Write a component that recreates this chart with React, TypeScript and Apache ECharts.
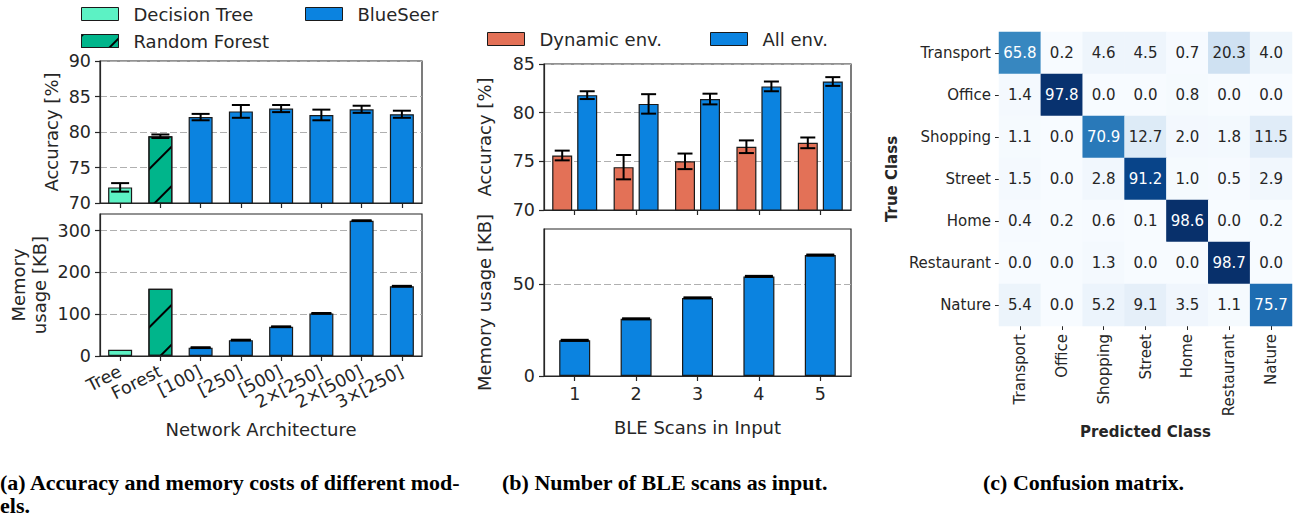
import React, { useEffect, useRef } from 'react';
import * as echarts from 'echarts';

// ---------- Panel (a): models ----------
const archCats = ['Tree', 'Forest', '[100]', '[250]', '[500]', '2×[250]', '2×[500]', '3×[250]'];
const archModel = ['Decision Tree', 'Random Forest', 'BlueSeer', 'BlueSeer', 'BlueSeer', 'BlueSeer', 'BlueSeer', 'BlueSeer'];
const accMean = [72.2, 79.4, 82.1, 82.9, 83.3, 82.4, 83.2, 82.5];
const accErr = [0.6, 0.25, 0.45, 0.9, 0.5, 0.75, 0.5, 0.5];
const memKB = [15, 161, 20, 38, 70, 102, 324, 167];
const memErr: (number | null)[] = [null, null, 1, 1, 1, 1, 1, 1];
const accTicks = { min: 70, max: 90, interval: 5, values: [70, 75, 80, 85, 90] };
const memTicks = { min: 0, max: 340, interval: 100, values: [0, 100, 200, 300] };

// ---------- Panel (b): BLE scans ----------
const bleCats = ['1', '2', '3', '4', '5'];
const dynAcc = [75.6, 74.4, 75.0, 76.5, 76.9];
const dynErr = [0.5, 1.25, 0.8, 0.65, 0.55];
const allAcc = [81.8, 80.9, 81.4, 82.7, 83.2];
const allErr = [0.4, 1.0, 0.55, 0.5, 0.45];
const bleMem = [19.4, 31.1, 42.5, 54.2, 65.8];
const bleMemErr = [0.3, 0.3, 0.3, 0.3, 0.3];
const bleAccTicks = { min: 70, max: 85, interval: 5, values: [70, 75, 80, 85] };
const bleMemTicks = { min: 0, max: 80, interval: 50, values: [0, 50] };

// ---------- Panel (c): confusion matrix ----------
const classes = ['Transport', 'Office', 'Shopping', 'Street', 'Home', 'Restaurant', 'Nature'];
const confusion = [
  [65.8, 0.2, 4.6, 4.5, 0.7, 20.3, 4.0],
  [1.4, 97.8, 0.0, 0.0, 0.8, 0.0, 0.0],
  [1.1, 0.0, 70.9, 12.7, 2.0, 1.8, 11.5],
  [1.5, 0.0, 2.8, 91.2, 1.0, 0.5, 2.9],
  [0.4, 0.2, 0.6, 0.1, 98.6, 0.0, 0.2],
  [0.0, 0.0, 1.3, 0.0, 0.0, 98.7, 0.0],
  [5.4, 0.0, 5.2, 9.1, 3.5, 1.1, 75.7],
];
const bluesStops = ['#f7fbff', '#deebf7', '#c6dbef', '#9ecae1', '#6baed6', '#4292c6', '#2171b5', '#08519c', '#08306b'];

const captions = [
  { text: '(a) Accuracy and memory costs of different mod-', x: 0, y: 482 },
  { text: 'els.', x: 0, y: 505 },
  { text: '(b) Number of BLE scans as input.', x: 502, y: 482 },
  { text: '(c) Confusion matrix.', x: 983, y: 482 },
];

const COLORS: Record<string, string> = {
  'Decision Tree': '#5cf2c4',
  'Random Forest': '#00b58b',
  BlueSeer: '#0b83e0',
  'Dynamic env.': '#e37157',
  'All env.': '#0b83e0',
};

const INK = '#262626';
const FONT = 'DejaVu Sans';

const hatch = {
  symbol: 'rect',
  symbolSize: 1,
  dashArrayX: [1, 0],
  dashArrayY: [1.6, 26],
  rotation: -Math.PI / 4,
  color: '#000',
};

function errRender(offset: number, capW: number) {
  return (params: any, api: any) => {
    const x = api.value(0);
    const lo = api.value(1);
    const hi = api.value(2);
    const p1 = api.coord([x, lo]);
    const p2 = api.coord([x, hi]);
    const cx = p1[0] + offset;
    const h = capW / 2;
    const st = { stroke: '#000', lineWidth: 2 };
    return {
      type: 'group',
      children: [
        { type: 'line', shape: { x1: cx, y1: p1[1], x2: cx, y2: p2[1] }, style: st },
        { type: 'line', shape: { x1: cx - h, y1: p1[1], x2: cx + h, y2: p1[1] }, style: st },
        { type: 'line', shape: { x1: cx - h, y1: p2[1], x2: cx + h, y2: p2[1] }, style: st },
      ],
    };
  };
}

function errData(means: number[], errs: (number | null)[]) {
  const out: number[][] = [];
  means.forEach((m, i) => {
    const e = errs[i];
    if (e != null) out.push([i, m - e, m + e]);
  });
  return out;
}

function valueAxis(
  gridIndex: number,
  t: { min: number; max: number; interval: number; values: number[] },
  name: string,
  nameGap: number
) {
  return {
    type: 'value',
    gridIndex,
    min: t.min,
    max: t.max,
    interval: t.interval,
    name,
    nameLocation: 'middle',
    nameGap,
    nameTextStyle: { fontSize: 18, color: INK, fontFamily: FONT, lineHeight: 21 },
    axisLine: { show: true, lineStyle: { color: INK, width: 1.2 } },
    axisTick: { show: true, length: 5, customValues: t.values, lineStyle: { color: INK, width: 1.2 } },
    axisLabel: {
      fontSize: 17.5, color: INK, fontFamily: FONT, margin: 9,
      customValues: t.values,
    },
    splitLine: { show: true, lineStyle: { color: '#b0b0b0', type: [7, 3], width: 1.2 } },
  };
}

function catAxis(gridIndex: number, data: string[], showLabel: boolean, extra: any = {}) {
  return {
    type: 'category',
    gridIndex,
    data,
    axisLine: { show: true, lineStyle: { color: INK, width: 1.2 } },
    axisTick: { show: true, alignWithLabel: true, length: 5, lineStyle: { color: INK, width: 1.2 } },
    axisLabel: { show: showLabel, interval: 0, fontSize: 17.5, color: INK, fontFamily: FONT, margin: 9 },
    splitLine: { show: false },
    ...extra,
  };
}

function modelBars(name: string, values: number[], xAxisIndex: number, yAxisIndex: number, stack: string) {
  return {
    type: 'bar',
    name,
    xAxisIndex,
    yAxisIndex,
    stack,
    barWidth: 24,
    data: values.map((v, i) => (archModel[i] === name ? v : null)),
    itemStyle: {
      color: COLORS[name],
      borderColor: '#1a1a1a',
      borderWidth: 1.2,
      decal: name === 'Random Forest' ? hatch : undefined,
    },
    emphasis: { disabled: true },
  };
}

function legendAt(name: string, left: number, top: number) {
  return {
    data: [name],
    left,
    top,
    padding: 0,
    itemWidth: 37,
    itemHeight: 13,
    icon: 'rect',
    selectedMode: false,
    itemStyle: { borderColor: '#1a1a1a', borderWidth: 1 },
    textStyle: { fontSize: 18, color: INK, fontFamily: FONT, padding: [0, 0, 0, 10] },
  };
}

export default function App() {
  const ref = useRef<HTMLDivElement>(null);
  useEffect(() => {
    document.body.style.margin = '0';
    if (!ref.current) return;
    const chart = echarts.init(ref.current, undefined, { renderer: 'svg' });

    const heatData: any[] = [];
    confusion.forEach((row, r) =>
      row.forEach((v, c) => {
        heatData.push({ value: [c, r, v], label: { color: v > 50 ? '#ffffff' : INK } });
      })
    );

    const option: any = {
      animation: false,
      backgroundColor: '#ffffff',
      textStyle: { fontFamily: FONT },
      legend: [
        legendAt('Decision Tree', 81, 5),
        legendAt('BlueSeer', 305, 5),
        legendAt('Random Forest', 81, 32),
        legendAt('Dynamic env.', 487, 30),
        legendAt('All env.', 710, 30),
      ],
      grid: [
        { left: 100, top: 61, width: 322, height: 142, show: true, borderColor: INK, borderWidth: 1.2, backgroundColor: '#fff', outerBoundsMode: 'none' },
        { left: 100, top: 214, width: 322, height: 142, show: true, borderColor: INK, borderWidth: 1.2, backgroundColor: '#fff', outerBoundsMode: 'none' },
        { left: 544, top: 64, width: 307, height: 146, show: true, borderColor: INK, borderWidth: 1.2, backgroundColor: '#fff', outerBoundsMode: 'none' },
        { left: 544, top: 229, width: 307, height: 147, show: true, borderColor: INK, borderWidth: 1.2, backgroundColor: '#fff', outerBoundsMode: 'none' },
        { left: 999, top: 32, width: 293, height: 294, show: false, outerBoundsMode: 'none' },
      ],
      xAxis: [
        catAxis(0, archCats, false),
        catAxis(1, archCats, true, {
          name: 'Network Architecture',
          nameLocation: 'middle',
          nameGap: 64,
          nameTextStyle: { fontSize: 18, color: INK, fontFamily: FONT },
          axisLabel: { show: true, interval: 0, rotate: 27, fontSize: 17.5, color: INK, fontFamily: FONT, margin: 14 },
        }),
        catAxis(2, bleCats, false),
        catAxis(3, bleCats, true, {
          name: 'BLE Scans in Input',
          nameLocation: 'middle',
          nameGap: 42,
          nameTextStyle: { fontSize: 18, color: INK, fontFamily: FONT },
        }),
        {
          type: 'category',
          gridIndex: 4,
          data: classes,
          name: 'Predicted Class',
          nameLocation: 'middle',
          nameGap: 98,
          nameTextStyle: { fontSize: 15, fontWeight: 'bold', color: INK, fontFamily: FONT },
          axisLine: { show: false },
          axisTick: { show: true, alignWithLabel: true, length: 4, lineStyle: { color: INK, width: 1 } },
          axisLabel: { interval: 0, rotate: 90, fontSize: 15, color: INK, fontFamily: FONT, margin: 8 },
          splitLine: { show: false },
        },
      ],
      yAxis: [
        valueAxis(0, accTicks, 'Accuracy [%]', 38),
        valueAxis(1, memTicks, 'Memory\nusage [KB]', 50),
        valueAxis(2, bleAccTicks, 'Accuracy [%]', 49),
        valueAxis(3, bleMemTicks, 'Memory usage [KB]', 49),
        {
          type: 'category',
          gridIndex: 4,
          data: classes,
          inverse: true,
          name: 'True Class',
          nameLocation: 'middle',
          nameGap: 100,
          nameTextStyle: { fontSize: 15, fontWeight: 'bold', color: INK, fontFamily: FONT },
          axisLine: { show: false },
          axisTick: { show: true, alignWithLabel: true, length: 4, lineStyle: { color: INK, width: 1 } },
          axisLabel: { interval: 0, fontSize: 15, color: INK, fontFamily: FONT, margin: 8 },
          splitLine: { show: false },
        },
      ],
      visualMap: {
        show: false,
        type: 'continuous',
        seriesIndex: 14,
        min: 0,
        max: 98.7,
        dimension: 2,
        inRange: { color: bluesStops },
      },
      series: [
        // (a) accuracy
        modelBars('Decision Tree', accMean, 0, 0, 'acc'),
        modelBars('Random Forest', accMean, 0, 0, 'acc'),
        modelBars('BlueSeer', accMean, 0, 0, 'acc'),
        // (a) memory
        modelBars('Decision Tree', memKB, 1, 1, 'mem'),
        modelBars('Random Forest', memKB, 1, 1, 'mem'),
        modelBars('BlueSeer', memKB, 1, 1, 'mem'),
        {
          type: 'custom', xAxisIndex: 0, yAxisIndex: 0, z: 5, silent: true,
          renderItem: errRender(0, 18), data: errData(accMean, accErr),
        },
        {
          type: 'custom', xAxisIndex: 1, yAxisIndex: 1, z: 5, silent: true,
          renderItem: errRender(0, 20), data: errData(memKB, memErr),
        },
        // (b) accuracy
        {
          type: 'bar', name: 'Dynamic env.', xAxisIndex: 2, yAxisIndex: 2, barWidth: 20, barGap: '25%',
          data: dynAcc, itemStyle: { color: COLORS['Dynamic env.'], borderColor: '#1a1a1a', borderWidth: 1.2 },
          emphasis: { disabled: true },
        },
        {
          type: 'bar', name: 'All env.', xAxisIndex: 2, yAxisIndex: 2, barWidth: 20, barGap: '25%',
          data: allAcc, itemStyle: { color: COLORS['All env.'], borderColor: '#1a1a1a', borderWidth: 1.2 },
          emphasis: { disabled: true },
        },
        {
          type: 'custom', xAxisIndex: 2, yAxisIndex: 2, z: 5, silent: true,
          renderItem: errRender(-12.5, 15), data: errData(dynAcc, dynErr),
        },
        {
          type: 'custom', xAxisIndex: 2, yAxisIndex: 2, z: 5, silent: true,
          renderItem: errRender(12.5, 15), data: errData(allAcc, allErr),
        },
        // (b) memory
        {
          type: 'bar', name: 'All env.', xAxisIndex: 3, yAxisIndex: 3, barWidth: 31,
          data: bleMem, itemStyle: { color: COLORS['All env.'], borderColor: '#1a1a1a', borderWidth: 1.2 },
          emphasis: { disabled: true },
        },
        {
          type: 'custom', xAxisIndex: 3, yAxisIndex: 3, z: 5, silent: true,
          renderItem: errRender(0, 28), data: errData(bleMem, bleMemErr),
        },
        // (c) heatmap
        {
          type: 'heatmap', xAxisIndex: 4, yAxisIndex: 4,
          data: heatData,
          label: {
            show: true, fontSize: 15, fontFamily: FONT,
            formatter: (p: any) => p.value[2].toFixed(1),
          },
          itemStyle: { borderWidth: 0 },
          emphasis: { disabled: true },
        },
      ],
      graphic: captions.map((c) => ({
        type: 'text',
        x: c.x,
        y: c.y,
        silent: true,
        style: {
          text: c.text,
          fontFamily: 'Liberation Serif',
          fontWeight: 'bold',
          fontSize: 22,
          fill: '#000',
          verticalAlign: 'middle',
        },
      })),
    };
    chart.setOption(option);
    return () => chart.dispose();
  }, []);
  return <div ref={ref} style={{ width: 1294, height: 520 }} />;
}
